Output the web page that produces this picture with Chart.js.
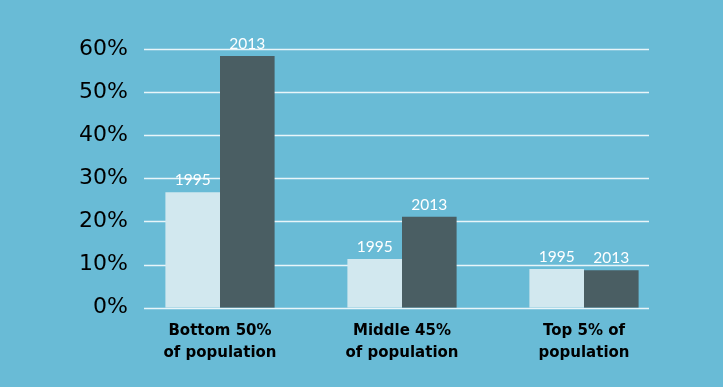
<!DOCTYPE html>
<html><head><meta charset="utf-8">
<script src="https://cdn.jsdelivr.net/npm/chart.js@4/dist/chart.umd.min.js"></script>
<style>html,body{margin:0;padding:0;background:#69bbd6;}#w{width:723px;height:387px;position:relative;}</style>
</head><body><div id="w"><canvas id="c"></canvas></div>
<script>
const categories = [["Bottom 50%","of population"],["Middle 45%","of population"],["Top 5% of","population"]];
const seriesNames = ["1995","2013"];
const values1995 = [26.8, 11.3, 9.0];
const values2013 = [58.4, 21.1, 8.7];
const yTicks = [0,10,20,30,40,50,60];

const gridPlugin = {
  id:'grid',
  beforeDatasetsDraw(chart){
    const ctx = chart.ctx, y = chart.scales.y;
    ctx.save();
    ctx.strokeStyle = 'rgba(255,255,255,0.85)';
    ctx.lineWidth = 1.5;
    yTicks.forEach(v=>{
      const py = Math.round(y.getPixelForValue(v))+0.5;
      ctx.beginPath(); ctx.moveTo(144,py); ctx.lineTo(649,py); ctx.stroke();
    });
    ctx.restore();
  }
};
const labelPlugin = {
  id:'vlabels',
  afterDatasetsDraw(chart){
    const ctx = chart.ctx;
    ctx.save();
    ctx.fillStyle = '#ffffff';
    ctx.font = '15.5px Lato';
    ctx.textAlign = 'center';
    ctx.textBaseline = 'bottom';
    chart.data.datasets.forEach((ds,i)=>{
      chart.getDatasetMeta(i).data.forEach(bar=>{
        ctx.fillText(ds.label, bar.x, bar.y - 4);
      });
    });
    ctx.restore();
  }
};

new Chart(document.getElementById('c'),{
  type:'bar',
  data:{
    labels: categories,
    datasets:[
      {label:seriesNames[0], data:values1995, backgroundColor:'#d2e8ef'},
      {label:seriesNames[1], data:values2013, backgroundColor:'#4a5e63'}
    ]
  },
  options:{
    responsive:true, maintainAspectRatio:false, animation:false,
    layout:{padding:{top:49,right:48,left:0,bottom:0}},
    categoryPercentage:0.6, barPercentage:1.0,
    plugins:{legend:{display:false}, tooltip:{enabled:false}},
    scales:{
      x:{
        grid:{display:false, drawTicks:false}, border:{display:false},
        ticks:{color:'#000', font:{family:'DejaVu Sans', weight:'bold', size:15, lineHeight:1.47}, padding:12, maxRotation:0},
        afterFit(s){ s.height = 79.3; }
      },
      y:{
        min:0, max:60,
        grid:{display:false, drawTicks:false}, border:{display:false},
        ticks:{stepSize:10, color:'#000', font:{family:'DejaVu Sans', size:22}, padding:1, callback:v=>v+'%'},
        afterFit(s){ s.width = 129; }
      }
    }
  },
  plugins:[gridPlugin,labelPlugin]
});
</script></body></html>
